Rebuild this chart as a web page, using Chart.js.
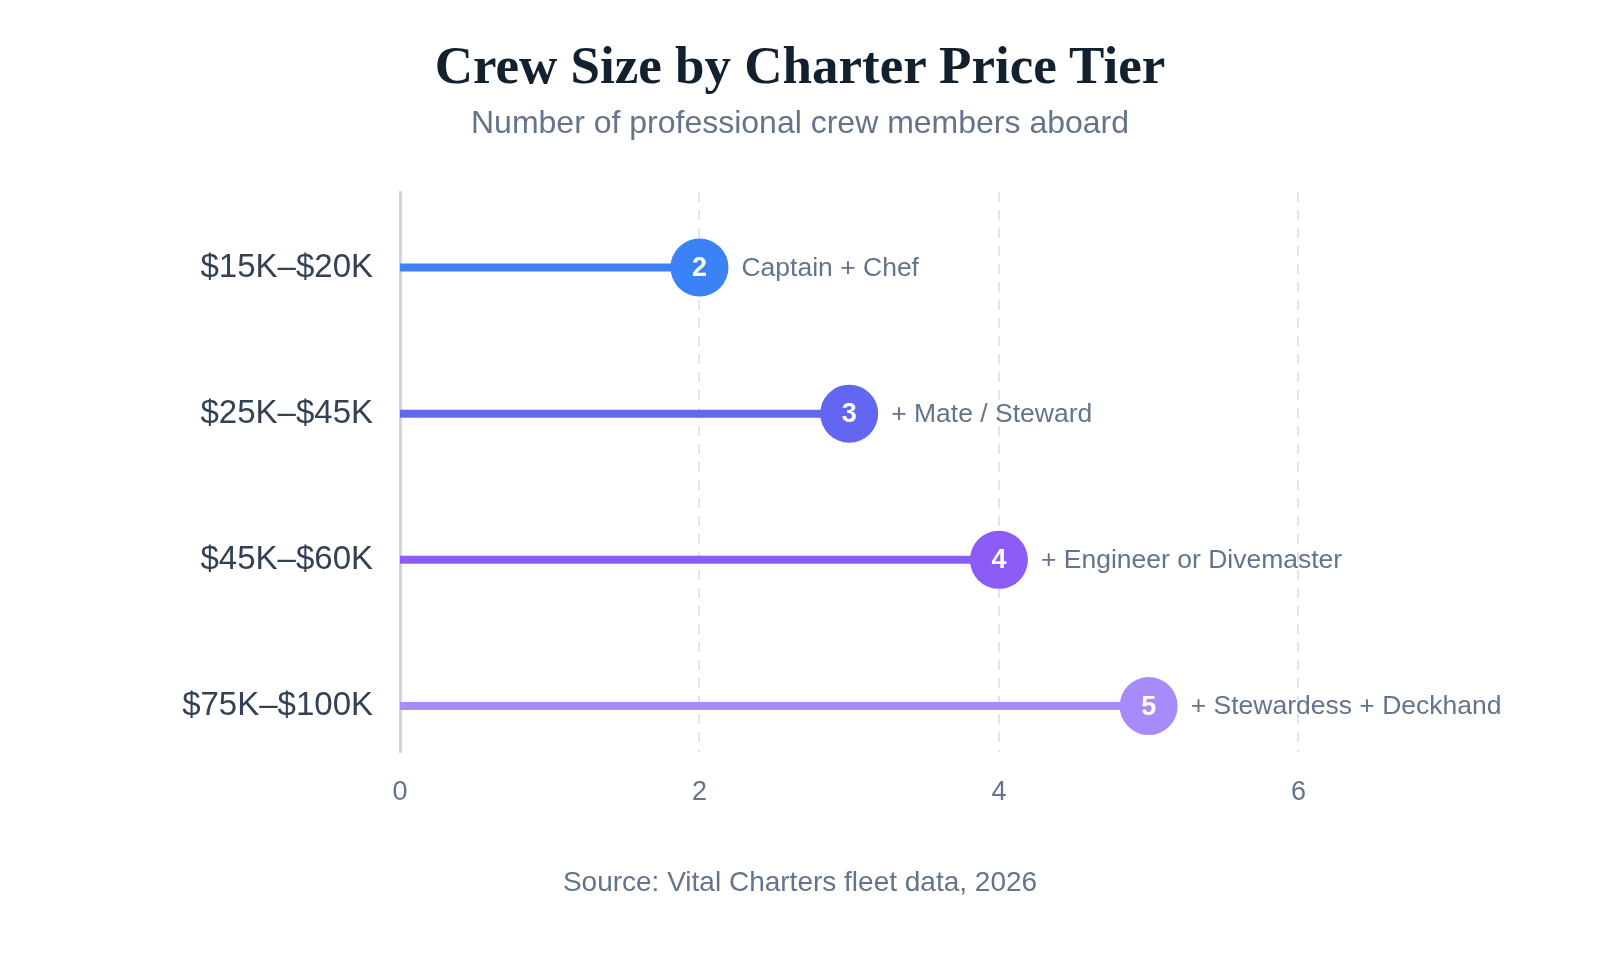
<!DOCTYPE html>
<html>
<head>
<meta charset="utf-8">
<script src="https://cdn.jsdelivr.net/npm/chart.js@4.4.1/dist/chart.umd.min.js"></script>
<style>
  html, body { margin: 0; padding: 0; background: #fff; }
  #wrap { position: relative; width: 1600px; height: 960px; overflow: hidden; }
  #chart { position: absolute; left: 0; top: 0; }
  .txt { position: absolute; left: 0; width: 1600px; text-align: center; white-space: nowrap; }
  #title { top: 35px; font: bold 53px "Liberation Serif", serif; color: #13202e; }
  #sub { top: 104px; font: 32px "Liberation Sans", Arial, sans-serif; color: #64748b; }
  #src { top: 866px; font: 28px "Liberation Sans", Arial, sans-serif; color: #64748b; }
</style>
</head>
<body>
<div id="wrap">
  <canvas id="chart" width="1600" height="960"></canvas>
  <div class="txt" id="title">Crew Size by Charter Price Tier</div>
  <div class="txt" id="sub">Number of professional crew members aboard</div>
  <div class="txt" id="src">Source: Vital Charters fleet data, 2026</div>
</div>
<script>
/* Lollipop chart: crew size per charter price tier */
const tiers = ["$15K–$20K", "$25K–$45K", "$45K–$60K", "$75K–$100K"];
const crew = [2, 3, 4, 5];
const roles = ["Captain + Chef", "+ Mate / Steward", "+ Engineer or Divemaster", "+ Stewardess + Deckhand"];
const tierColors = ["#3b82f6", "#6366f1", "#8b5cf6", "#a78bfa"];
const xTicks = [0, 2, 4, 6];

const SANS = '"Liberation Sans", Arial, sans-serif';

// stick from 0 to value, dot at the value
const datasets = tiers.map((t, i) => ({
  label: t,
  data: [{ x: 0, y: i }, { x: crew[i], y: i }],
  showLine: true,
  borderColor: tierColors[i],
  backgroundColor: tierColors[i],
  borderWidth: 8,
  borderCapStyle: "butt",
  pointRadius: [0, 29],
  pointHoverRadius: [0, 29],
  pointBorderWidth: 0,
  pointBackgroundColor: tierColors[i],
}));

const lollipopLabels = {
  id: "lollipopLabels",
  afterDatasetsDraw(chart) {
    const ctx = chart.ctx;
    ctx.save();
    ctx.textBaseline = "middle";
    chart.data.datasets.forEach((ds, i) => {
      const pt = chart.getDatasetMeta(i).data[1];
      ctx.fillStyle = "#ffffff";
      ctx.textAlign = "center";
      ctx.font = "bold 27px " + SANS;
      ctx.fillText(String(crew[i]), pt.x, pt.y + 1);
      ctx.fillStyle = "#64748b";
      ctx.textAlign = "left";
      ctx.font = "26.5px " + SANS;
      ctx.fillText(roles[i], pt.x + 42, pt.y + 1);
    });
    ctx.restore();
  },
};

new Chart(document.getElementById("chart"), {
  type: "scatter",
  data: { datasets },
  plugins: [lollipopLabels],
  options: {
    responsive: false,
    animation: false,
    events: [],
    layout: { padding: { top: 192, right: 77, bottom: 128, left: 0 } },
    plugins: { legend: { display: false }, tooltip: { enabled: false } },
    scales: {
      x: {
        type: "linear", min: 0, max: 7.5,
        afterFit: s => { s.height = 80; },
        afterBuildTicks: s => { s.ticks = xTicks.map(v => ({ value: v })); },
        ticks: { padding: 24, color: "#64748b", font: { family: SANS, size: 27 } },
        grid: {
          drawTicks: false, lineWidth: 2,
          color: c => (c.tick && c.tick.value === 0) ? "rgba(0,0,0,0)" : "#e2e5ea",
        },
        border: { display: false, dash: [10, 8] },
      },
      y: {
        type: "linear", reverse: true, min: -0.516, max: 3.314,
        afterFit: s => { s.width = 400; },
        afterBuildTicks: s => { s.ticks = tiers.map((t, i) => ({ value: i })); },
        ticks: {
          padding: 27, color: "#334155", font: { family: SANS, size: 33 },
          callback: v => tiers[v] ?? "",
        },
        grid: { display: false, drawTicks: false },
        border: { display: true, color: "#cbd5e1", width: 3 },
      },
    },
  },
});
</script>
</body>
</html>
